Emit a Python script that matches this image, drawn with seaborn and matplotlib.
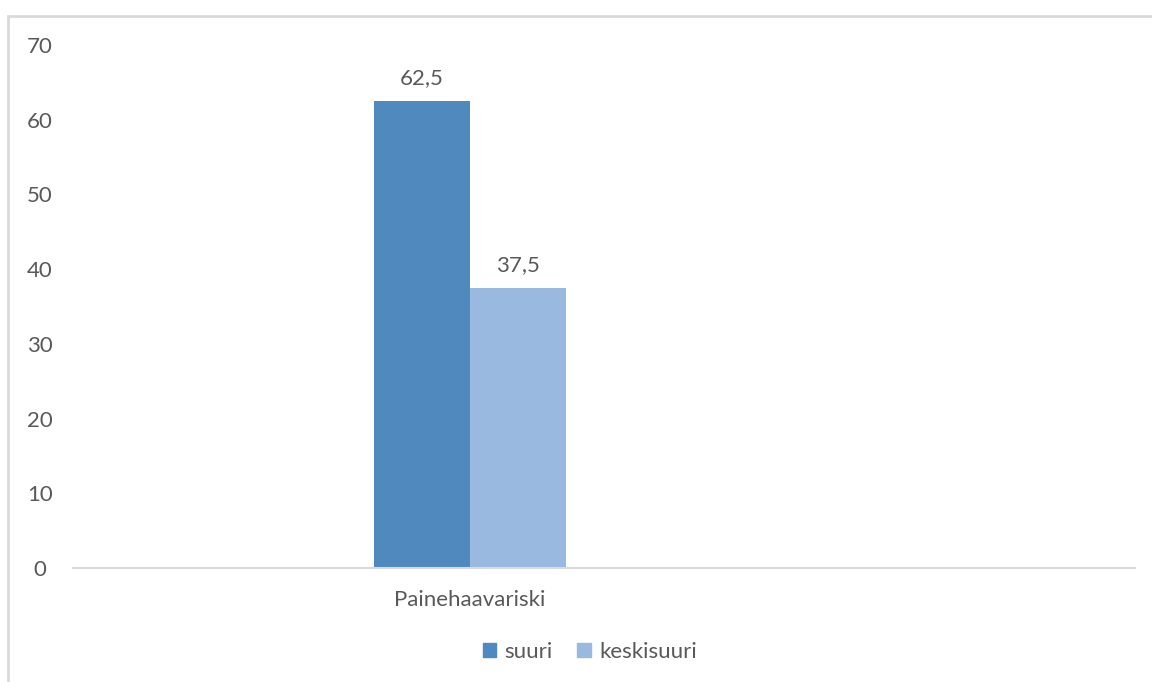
import matplotlib
matplotlib.use("Agg")
import matplotlib.pyplot as plt
import seaborn as sns
import pandas as pd
from matplotlib.patches import Rectangle

categories = ["Painehaavariski"]
series = ["suuri", "keskisuuri"]
suuri = [62.5]
keskisuuri = [37.5]
yticks = [0, 10, 20, 30, 40, 50, 60, 70]
colors = ["#4F89BD", "#99B9E0"]

df = pd.DataFrame({
    "kategoria": categories * 2,
    "sarja": [series[0]] * len(categories) + [series[1]] * len(categories),
    "arvo": suuri + keskisuuri,
})

sns.set_theme(style="white")
plt.rcParams["font.family"] = ["Lato", "DejaVu Sans"]
text_color = "#595959"
fs = 16

fig = plt.figure(figsize=(11.52, 6.82), dpi=100)
ax = fig.add_axes([73 / 1152, 1 - 568 / 682, (1135 - 73) / 1152, (568 - 45) / 682])

sns.barplot(data=df, x="kategoria", y="arvo", hue="sarja", palette=colors,
            width=0.8, saturation=1, ax=ax, legend=False, linewidth=0)

ax.set_xlim(-1.654, 2.771)
ax.set_ylim(0, 70)
ax.set_yticks(yticks)
ax.set_yticklabels([str(t) for t in yticks])
ax.set_xlabel("")
ax.set_ylabel("")
ax.tick_params(axis="y", length=0, pad=24, labelsize=fs, labelcolor=text_color)
ax.tick_params(axis="x", length=0, pad=16, labelsize=fs, labelcolor=text_color)
for lab in ax.get_yticklabels():
    lab.set_horizontalalignment("center")

for s in ["left", "right", "top"]:
    ax.spines[s].set_visible(False)
ax.spines["bottom"].set_color("#D9D9D9")
ax.spines["bottom"].set_linewidth(1.5)
ax.grid(False)

for cont in ax.containers:
    labels = [f"{v:.1f}".replace(".", ",") for v in cont.datavalues]
    ax.bar_label(cont, labels=labels, padding=9, fontsize=fs, color=text_color)

handles = [Rectangle((0, 0), 1, 1, color=c) for c in colors]
fig.legend(handles, series, loc="center", bbox_to_anchor=(590 / 1152, 1 - 652 / 682),
           ncol=2, frameon=False, fontsize=fs, labelcolor=text_color,
           handlelength=0.6, handleheight=0.6, handletextpad=0.4, columnspacing=1.1)

# outer chart frame
fig.patches.append(Rectangle((8 / 1152, -0.05), 1.1, 1 - 16 / 682 + 0.05,
                             transform=fig.transFigure, fill=False,
                             edgecolor="#D9D9D9", linewidth=2, zorder=-1))

fig.savefig("out.png", dpi=100)
